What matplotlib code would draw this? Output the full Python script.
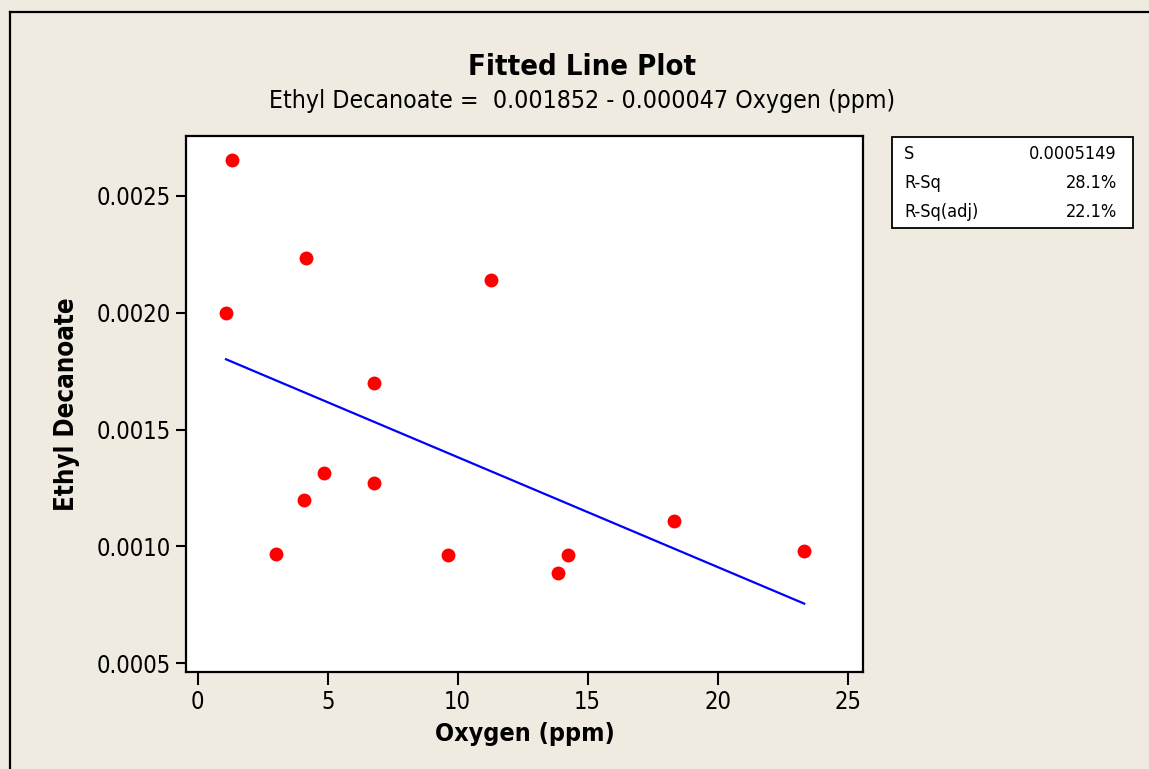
import matplotlib.pyplot as plt
from matplotlib.patches import Rectangle
from matplotlib.lines import Line2D
import numpy as np

# data
oxygen = [1.32, 1.09, 4.17, 11.30, 6.78, 3.01, 4.09, 4.86, 6.78, 9.64, 13.86, 14.25, 18.33, 23.33]
ethyl_decanoate = [0.002653, 0.002000, 0.002236, 0.002142, 0.001699, 0.000967, 0.001197,
                   0.001316, 0.001273, 0.000964, 0.000887, 0.000964, 0.001109, 0.000981]
intercept = 0.001852
slope = -0.000047
stat_names = ["S", "R-Sq", "R-Sq(adj)"]
stat_values = ["0.0005149", "28.1%", "22.1%"]
x_ticks = [0, 5, 10, 15, 20, 25]
y_ticks = [0.0005, 0.0010, 0.0015, 0.0020, 0.0025]

plt.rcParams['font.family'] = ['DejaVu Sans']
plt.rcParams['font.stretch'] = 'condensed'

bg = '#EFEBE1'
fig = plt.figure(figsize=(11.49, 7.69), dpi=100, facecolor=bg)
ax = fig.add_axes([186/1149, 1-672/769, (863-186)/1149, (672-136)/769])
ax.set_facecolor('white')

xfit = np.array([min(oxygen), max(oxygen)])
ax.plot(xfit, intercept + slope*xfit, color='#0000FF', lw=1.6, zorder=2)
ax.plot(oxygen, ethyl_decanoate, 'o', color='#FF0000', ms=10, mec='none', zorder=3)

ax.set_xlim(-0.45, 25.59)
ax.set_ylim(0.000463, 0.002756)
ax.set_xticks(x_ticks)
ax.set_yticks(y_ticks)
ax.set_yticklabels([f"{v:.4f}" for v in y_ticks])
ax.tick_params(axis='both', direction='out', labelsize=17, width=1.5, colors='black')
ax.tick_params(axis='x', length=9, pad=4)
ax.tick_params(axis='y', length=7, pad=4)
for sp in ax.spines.values():
    sp.set_linewidth(1.6)

ax.set_xlabel("Oxygen (ppm)", fontsize=18, fontweight='bold', labelpad=6)
ax.set_ylabel("Ethyl Decanoate", fontsize=18.5, fontweight='bold', labelpad=12)

fig.text(0.507, 1-67/769, "Fitted Line Plot", ha='center', va='center', fontsize=21, fontweight='bold')
fig.text(0.507, 1-101/769, "Ethyl Decanoate =  0.001852 - 0.000047 Oxygen (ppm)",
         ha='center', va='center', fontsize=17.8)

# stats box
box = Rectangle((892/1149, 1-228/769), (1133-892)/1149, (228-137)/769,
                transform=fig.transFigure, facecolor='white', edgecolor='black', lw=1.3)
fig.add_artist(box)
for i, (n, v) in enumerate(zip(stat_names, stat_values)):
    yy = 1 - (154 + i*29)/769
    fig.text(904/1149, yy, n, ha='left', va='center', fontsize=13)
    fig.text(1117/1149, yy, v, ha='right', va='center', fontsize=13)

# outer frame (only left and top edges visible)
fig.add_artist(Line2D([9.5/1149, 9.5/1149], [0, 1-12/769], transform=fig.transFigure, color='black', lw=1.6))
fig.add_artist(Line2D([9.5/1149, 1], [1-12/769, 1-12/769], transform=fig.transFigure, color='black', lw=1.6))

fig.savefig("out.png", dpi=100, facecolor=bg)
